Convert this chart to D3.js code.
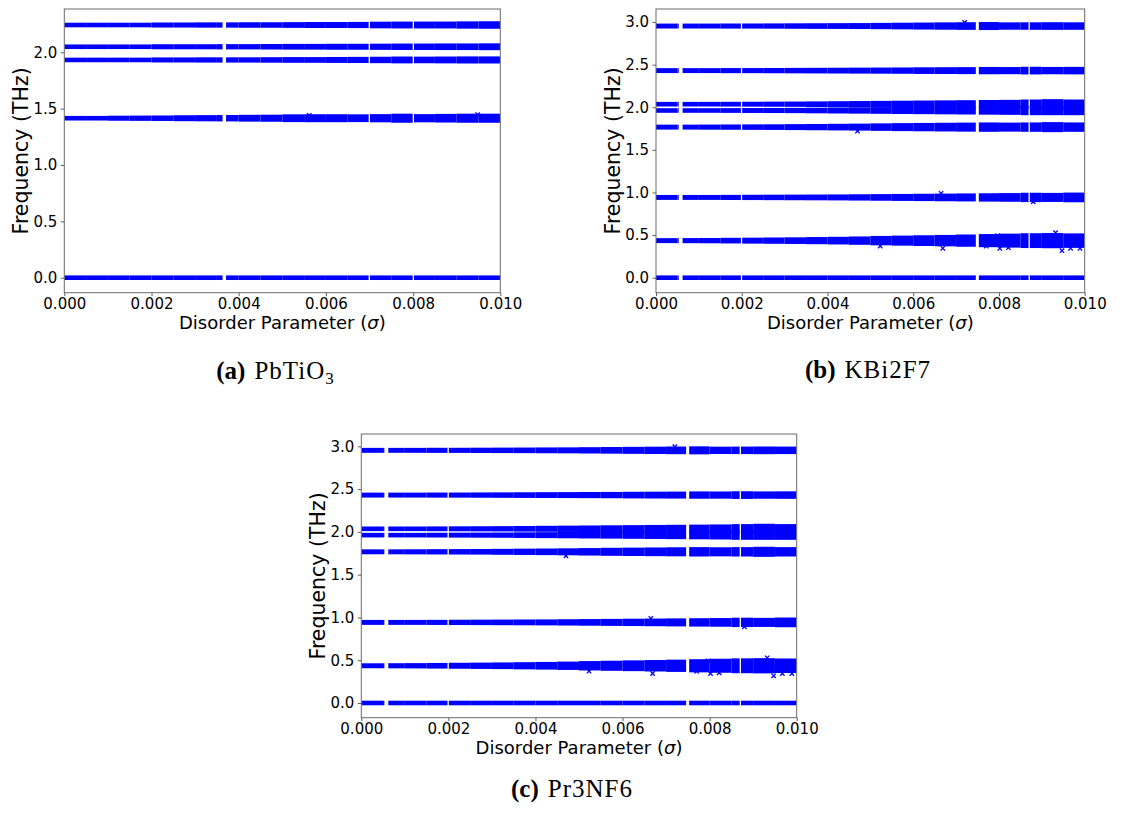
<!DOCTYPE html>
<html><head><meta charset="utf-8">
<script src="https://cdn.jsdelivr.net/npm/d3@7"></script>
<style>body{margin:0;background:#fff} svg{display:block}</style>
</head><body><svg id="c" width="1122" height="813"></svg>
<script>
// ---------------- DATA ----------------
const xTicks = [0, 0.002, 0.004, 0.006, 0.008, 0.010];
const binEdges = [0, 0.0005, 0.001, 0.0015, 0.002, 0.0025, 0.003, 0.0035, 0.004, 0.0045, 0.005,
                  0.0055, 0.006, 0.0065, 0.007, 0.0075, 0.008, 0.0085, 0.009, 0.0095, 0.010];

// (a) PbTiO3
const yTicksA = [0, 0.5, 1.0, 1.5, 2.0];
const bandsA = [2.242, 2.049, 1.932, 1.415, 0.0];
const spreadA = [
  [0,0,0,0,0.002,0.002,0.003,0.003,0.004,0.004,0.005,0.006,0.006,0.007,0.009,0.010,0.010,0.010,0.012,0.013],
  [0,0,0,0,0.002,0.002,0.002,0.003,0.003,0.004,0.005,0.005,0.006,0.006,0.007,0.008,0.008,0.009,0.009,0.010],
  [0,0,0,0,0.002,0.002,0.003,0.003,0.003,0.004,0.005,0.005,0.006,0.007,0.008,0.010,0.009,0.010,0.011,0.011],
  [0,0,0.002,0.003,0.004,0.006,0.007,0.008,0.010,0.011,0.014,0.015,0.015,0.014,0.016,0.020,0.016,0.018,0.020,0.020],
  [0,0,0,0,0,0,0,0,0,0,0,0,0,0,0,0,0,0,0,0]
];
const gapsA = [[0.00363, 0.00371], [0.00698, 0.00701], [0.00799, 0.00802]];
const outliersA = [[0.00948, 1.447], [0.00562, 1.440]];

// (b) KBi2F7 and (c) Pr3NF6
const yTicksB = [0, 0.5, 1.0, 1.5, 2.0, 2.5, 3.0];
const bandsB = [2.953, 2.430, 2.036, 1.962, 1.767, 0.942, 0.435, 0.0];
const spreadB = [
  [0.002,0.002,0.002,0.003,0.003,0.004,0.005,0.006,0.007,0.008,0.010,0.012,0.014,0.016,0.018,0.020,0.016,0.017,0.018,0.017],
  [0.002,0.002,0.002,0.003,0.003,0.004,0.005,0.006,0.007,0.008,0.009,0.010,0.012,0.013,0.014,0.016,0.015,0.018,0.016,0.017],
  [0,0,0,0.001,0.002,0.003,0.004,0.006,0.008,0.010,0.012,0.014,0.016,0.018,0.020,0.022,0.024,0.028,0.032,0.028],
  [0,0,0,0.001,0.002,0.003,0.004,0.006,0.008,0.010,0.012,0.014,0.016,0.018,0.020,0.022,0.024,0.028,0.028,0.028],
  [0.002,0.002,0.003,0.004,0.005,0.006,0.008,0.010,0.012,0.014,0.017,0.020,0.022,0.024,0.026,0.028,0.026,0.028,0.032,0.028],
  [0.002,0.002,0.002,0.003,0.004,0.005,0.006,0.007,0.008,0.010,0.012,0.014,0.016,0.018,0.020,0.022,0.024,0.028,0.026,0.030],
  [0.002,0.003,0.004,0.006,0.008,0.010,0.012,0.015,0.018,0.022,0.028,0.032,0.036,0.040,0.045,0.050,0.055,0.060,0.062,0.058],
  [0,0,0,0,0,0,0,0,0,0,0,0,0,0,0,0,0,0,0,0]
];
const gapsB = [[0.00053, 0.00062], [0.00198, 0.00201], [0.00746, 0.00753], [0.00869, 0.00872]];
const outliersB = [
  [0.00669, 0.345], [0.00822, 0.352], [0.00932, 0.528], [0.00947, 0.317], [0.00797, 0.493],
  [0.00770, 0.370], [0.00967, 0.345], [0.00989, 0.345], [0.00523, 0.372], [0.00802, 0.345],
  [0.00880, 0.890], [0.00665, 0.990], [0.00720, 2.995], [0.00470, 1.720]
];

const xLabelParts = ["Disorder Parameter (", "σ", ")"];
const yLabel = "Frequency (THz)";
const captionTags = ["(a)", "(b)", "(c)"];
const captionNames = [["PbTiO", "3"], ["KBi2F7", ""], ["Pr3NF6", ""]];

// ---------------- LAYOUT ----------------
const panels = [
  {left: 64.3, right: 500.3, top: 9, bottom: 292.7, yDom: [-0.133, 2.384], yTicks: yTicksA,
   bands: bandsA, spread: spreadA, gaps: gapsA, outliers: outliersA, cap: 0, capX: 275, capY: 379},
  {left: 656, right: 1084.7, top: 9, bottom: 292.7, yDom: [-0.176, 3.153], yTicks: yTicksB,
   bands: bandsB, spread: spreadB, gaps: gapsB, outliers: outliersB, cap: 1, capX: 868, capY: 378},
  {left: 361.3, right: 796.7, top: 434, bottom: 717.7, yDom: [-0.172, 3.144], yTicks: yTicksB,
   bands: bandsB, spread: spreadB, gaps: gapsB, outliers: outliersB, cap: 2, capX: 572, capY: 797}
];
const BLUE = "#0000ff";
const MH = 2.3; // marker half size in px
const svg = d3.select("#c");

function segments(e0, e1, gaps) {
  let segs = [[e0, e1]];
  gaps.forEach(([g0, g1]) => {
    const out = [];
    segs.forEach(([a, b]) => {
      if (g1 <= a || g0 >= b) { out.push([a, b]); return; }
      if (g0 > a) out.push([a, g0]);
      if (g1 < b) out.push([g1, b]);
    });
    segs = out;
  });
  return segs;
}

panels.forEach((p, pi) => {
  const x = d3.scaleLinear().domain([0, 0.010]).range([p.left, p.right]);
  const y = d3.scaleLinear().domain(p.yDom).range([p.bottom, p.top]);
  const g = svg.append("g");
  const clipId = "clip" + pi;
  g.append("clipPath").attr("id", clipId).append("rect")
    .attr("x", p.left).attr("y", p.top).attr("width", p.right - p.left).attr("height", p.bottom - p.top);

  const data = g.append("g").attr("clip-path", `url(#${clipId})`);
  p.bands.forEach((f, bi) => {
    const rects = [];
    for (let i = 0; i < binEdges.length - 1; i++) {
      const s = p.spread[bi][i];
      segments(binEdges[i], binEdges[i + 1], p.gaps).forEach(([a, b]) => rects.push({a, b, f, s}));
    }
    data.selectAll(null).data(rects).enter().append("rect")
      .attr("x", d => x(d.a)).attr("width", d => Math.max(0, x(d.b) - x(d.a)))
      .attr("y", d => y(d.f + d.s) - MH)
      .attr("height", d => y(d.f - d.s) - y(d.f + d.s) + 2 * MH)
      .attr("fill", BLUE);
  });
  data.selectAll(null).data(p.outliers).enter().append("path")
    .attr("d", d => {
      const cx = x(d[0]), cy = y(d[1]), r = 2.2;
      return `M${cx - r},${cy - r}L${cx + r},${cy + r}M${cx - r},${cy + r}L${cx + r},${cy - r}`;
    })
    .attr("stroke", BLUE).attr("stroke-width", 1.3).attr("fill", "none");

  // axes
  const xa = g.append("g").attr("transform", `translate(0,${p.bottom})`)
    .call(d3.axisBottom(x).tickValues(xTicks).tickFormat(d3.format(".3f")).tickSize(3.5).tickPadding(2.5));
  const ya = g.append("g").attr("transform", `translate(${p.left},0)`)
    .call(d3.axisLeft(y).tickValues(p.yTicks).tickFormat(d3.format(".1f")).tickSize(3.5).tickPadding(3.5));
  [xa, ya].forEach(a => {
    a.select(".domain").remove();
    a.selectAll(".tick line").attr("stroke", "#333").attr("stroke-width", 0.8);
    a.selectAll(".tick text").attr("fill", "#000").style("font-family", "DejaVu Sans").style("font-size", "15px");
  });
  g.append("rect").attr("x", p.left).attr("y", p.top)
    .attr("width", p.right - p.left).attr("height", p.bottom - p.top)
    .attr("fill", "none").attr("stroke", "#6a6a6a").attr("stroke-width", 1);

  // labels
  const xl = g.append("text").attr("x", (p.left + p.right) / 2).attr("y", p.bottom + 36.5)
    .attr("text-anchor", "middle").style("font-family", "DejaVu Sans").style("font-size", "18px");
  xl.append("tspan").text(xLabelParts[0]);
  xl.append("tspan").style("font-style", "italic").text(xLabelParts[1]);
  xl.append("tspan").text(xLabelParts[2]);
  g.append("text").attr("transform", `translate(${p.left - 36.5},${(p.top + p.bottom) / 2}) rotate(-90)`)
    .attr("text-anchor", "middle").style("font-family", "DejaVu Sans").style("font-size", "20.5px")
    .text(yLabel);

  // caption
  const t = svg.append("text").attr("x", p.capX).attr("y", p.capY).attr("text-anchor", "middle")
    .style("font-family", "Liberation Serif").style("font-size", "25px");
  t.append("tspan").style("font-weight", "bold").text(captionTags[p.cap]);
  t.append("tspan").attr("dx", 9).style("letter-spacing", "1px").text(captionNames[p.cap][0]);
  if (captionNames[p.cap][1]) {
    t.append("tspan").attr("dy", 5).style("font-size", "17px").text(captionNames[p.cap][1]);
  }
});
</script>
</body></html>
